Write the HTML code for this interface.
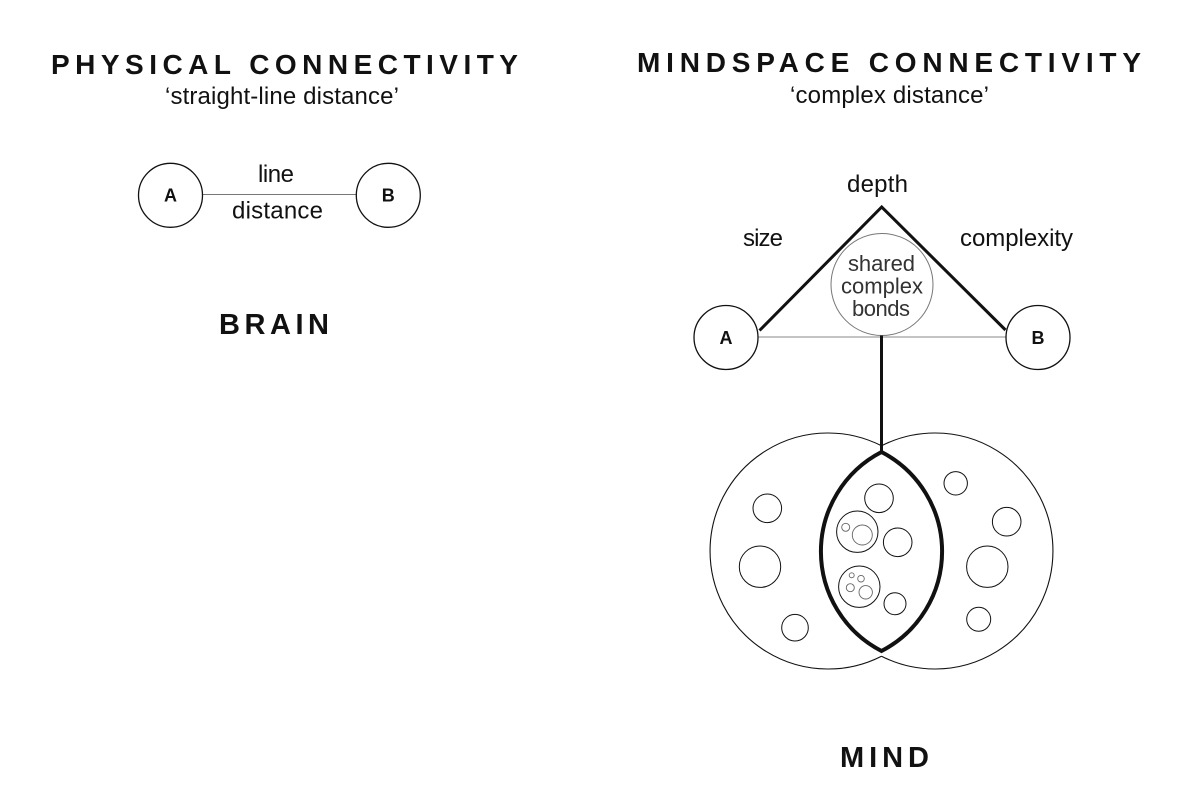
<!DOCTYPE html>
<html>
<head>
<meta charset="utf-8">
<style>
  html, body { margin: 0; padding: 0; background: #ffffff; }
  svg { display: block; }
  text { font-family: "Liberation Sans", Arial, sans-serif; fill: #111; }
  .title { font-weight: bold; font-size: 28px; }
  .sub { font-size: 24px; }
  .lbl { font-size: 24px; }
  .sh { font-size: 22px; fill: #333; }
  .ab { font-weight: bold; font-size: 18px; }
  .big { font-weight: bold; font-size: 29px; }
</style>
</head>
<body>
<svg width="1200" height="805" viewBox="0 0 1200 805" xmlns="http://www.w3.org/2000/svg">
  <rect width="1200" height="805" fill="#ffffff"/>

  <!-- LEFT: PHYSICAL CONNECTIVITY -->
  <text class="title" x="51" y="74" textLength="467">PHYSICAL CONNECTIVITY</text>
  <text class="sub" x="165" y="104" textLength="234">‘straight-line distance’</text>

  <line x1="202.5" y1="194.5" x2="356.5" y2="194.5" stroke="#777" stroke-width="1"/>
  <circle cx="170.5" cy="195.3" r="32" fill="none" stroke="#111" stroke-width="1.3"/>
  <circle cx="388.3" cy="195.3" r="32" fill="none" stroke="#111" stroke-width="1.3"/>
  <text class="ab" x="170.5" y="201.5" text-anchor="middle">A</text>
  <text class="ab" x="388.3" y="201.5" text-anchor="middle">B</text>
  <text class="lbl" x="258" y="182" textLength="36">line</text>
  <text class="lbl" x="232" y="218.5" textLength="91">distance</text>

  <text class="big" x="219" y="334" textLength="110">BRAIN</text>

  <!-- RIGHT: MINDSPACE CONNECTIVITY -->
  <text class="title" x="637" y="72" textLength="504">MINDSPACE CONNECTIVITY</text>
  <text class="sub" x="790" y="103" textLength="199">‘complex distance’</text>

  <text class="lbl" x="847" y="192" textLength="61">depth</text>
  <text class="lbl" x="743" y="246" textLength="40">size</text>
  <text class="lbl" x="960" y="246" textLength="113">complexity</text>

  <!-- horizontal thin line A-B -->
  <line x1="758" y1="337" x2="1006" y2="337" stroke="#888" stroke-width="1"/>
  <!-- triangle legs -->
  <polyline points="759.5,330.5 881.7,207 1005.5,330" fill="none" stroke="#111" stroke-width="3" stroke-linejoin="miter"/>
  <!-- shared circle -->
  <circle cx="882" cy="284.5" r="51" fill="#ffffff" stroke="#777" stroke-width="1"/>
  <text class="sh" x="848" y="271" textLength="67">shared</text>
  <text class="sh" x="841" y="293.5" textLength="82">complex</text>
  <text class="sh" x="852" y="316" textLength="58">bonds</text>

  <!-- A / B nodes -->
  <circle cx="726" cy="337.5" r="32" fill="#ffffff" stroke="#111" stroke-width="1.3"/>
  <circle cx="1038" cy="337.5" r="32" fill="#ffffff" stroke="#111" stroke-width="1.3"/>
  <text class="ab" x="726" y="344" text-anchor="middle">A</text>
  <text class="ab" x="1038" y="344" text-anchor="middle">B</text>

  <!-- vertical connector -->
  <line x1="881.5" y1="335.5" x2="881.5" y2="454" stroke="#111" stroke-width="3"/>

  <!-- Venn outer arcs -->
  <path d="M 881.5 445.8 A 118 118 0 1 0 881.5 656.2" fill="none" stroke="#111" stroke-width="1.1"/>
  <path d="M 881.5 445.8 A 118 118 0 1 1 881.5 656.2" fill="none" stroke="#111" stroke-width="1.1"/>
  <!-- thick lens -->
  <path d="M 881.5 452 A 112 112 0 0 0 881.5 651 A 112 112 0 0 0 881.5 452 Z" fill="none" stroke="#111" stroke-width="4" stroke-linejoin="miter" stroke-miterlimit="20"/>

  <!-- small circles -->
  <g fill="none" stroke="#111" stroke-width="1">
    <circle cx="767.3" cy="508.3" r="14.3"/>
    <circle cx="760" cy="566.7" r="20.7"/>
    <circle cx="795" cy="627.7" r="13.3"/>
    <circle cx="879" cy="498.3" r="14.3"/>
    <circle cx="857.3" cy="531.7" r="20.7"/>
    <circle cx="897.7" cy="542.3" r="14.3"/>
    <circle cx="859.3" cy="586.7" r="20.7"/>
    <circle cx="895" cy="603.7" r="11"/>
    <circle cx="955.7" cy="483.3" r="11.7"/>
    <circle cx="1006.7" cy="521.7" r="14.3"/>
    <circle cx="987.3" cy="566.7" r="20.7"/>
    <circle cx="978.7" cy="619.3" r="12"/>
  </g>
  <g fill="none" stroke="#666" stroke-width="0.9">
    <circle cx="862.3" cy="535" r="10"/>
    <circle cx="845.7" cy="527.3" r="4"/>
    <circle cx="865.7" cy="592.3" r="6.7"/>
    <circle cx="850.3" cy="587.7" r="4"/>
    <circle cx="861" cy="578.7" r="3.3"/>
    <circle cx="851.7" cy="575.3" r="2.5"/>
  </g>

  <text class="big" x="840" y="767" textLength="89">MIND</text>
</svg>
</body>
</html>
